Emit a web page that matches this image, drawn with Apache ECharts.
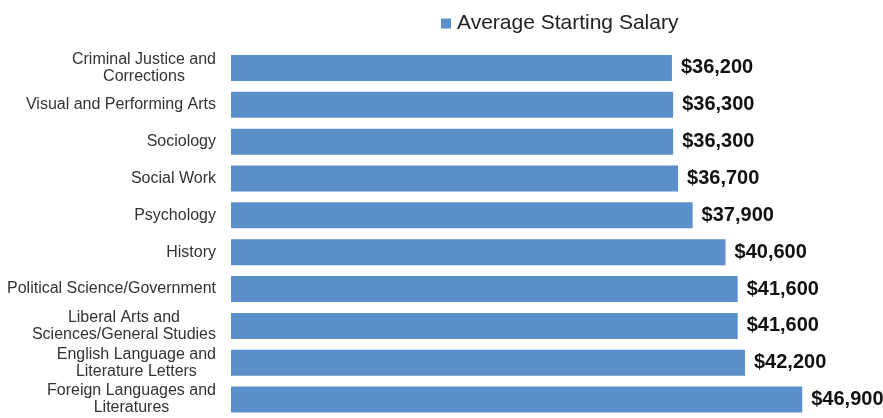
<!DOCTYPE html>
<html style="height: 100%">
<head>
  <meta charset="UTF-8">
  <title>Average Starting Salary</title>
</head>
<body style="height: 100%; margin: 0; background: #fff">
<div id="container" style="width: 883px; height: 418px"></div>
<script type="text/javascript" src="https://cdn.jsdelivr.net/npm/echarts@6/dist/echarts.min.js"></script>
<script type="text/javascript">
  // top to bottom, as in the picture
  var majors = [
    'Criminal Justice and\nCorrections',
    'Visual and Performing Arts',
    'Sociology',
    'Social Work',
    'Psychology',
    'History',
    'Political Science/Government',
    'Liberal Arts and\nSciences/General Studies',
    'English Language and\nLiterature Letters',
    'Foreign Languages and\nLiteratures'
  ];
  var salaries = [36200, 36300, 36300, 36700, 37900, 40600, 41600, 41600, 42200, 46900];

  var dom = document.getElementById('container');
  var myChart = echarts.init(dom, null, { renderer: 'canvas' });

  var option = {
    animation: false,
    legend: {
      data: ['Average Starting Salary'],
      top: 8,
      left: 436,
      itemWidth: 10,
      itemHeight: 10,
      itemGap: 4,
      icon: 'rect',
      textStyle: {
        fontFamily: 'Liberation Sans',
        fontSize: 21,
        color: '#222',
        padding: [0, 0, 0, 1]
      }
    },
    grid: {
      left: 231,
      top: 49.5,
      width: 609,
      height: 372,
      containLabel: false
    },
    xAxis: {
      type: 'value',
      min: 0,
      max: 50000,
      show: false
    },
    yAxis: {
      type: 'category',
      inverse: true,
      data: majors,
      axisLine: { show: false },
      axisTick: { show: false },
      axisLabel: {
        margin: 15,
        align: 'right',
        // each line centred inside the right-aligned block
        formatter: function (v) {
          return v.split('\n').map(function (s) {
            return '{c|' + s + '}';
          }).join('\n');
        },
        rich: {
          c: {
            align: 'center',
            fontFamily: 'Liberation Sans',
            fontSize: 16,
            lineHeight: 17,
            color: '#333'
          }
        }
      }
    },
    series: [
      {
        name: 'Average Starting Salary',
        type: 'bar',
        data: salaries,
        barWidth: 26,
        itemStyle: { color: '#5b8fc9' },
        label: {
          show: true,
          position: 'right',
          distance: 9,
          fontFamily: 'Liberation Sans',
          fontSize: 20,
          fontWeight: 'bold',
          color: '#111',
          formatter: function (p) {
            return '$' + p.value.toLocaleString('en-US');
          }
        }
      }
    ]
  };
  myChart.setOption(option);
</script>
</body>
</html>
